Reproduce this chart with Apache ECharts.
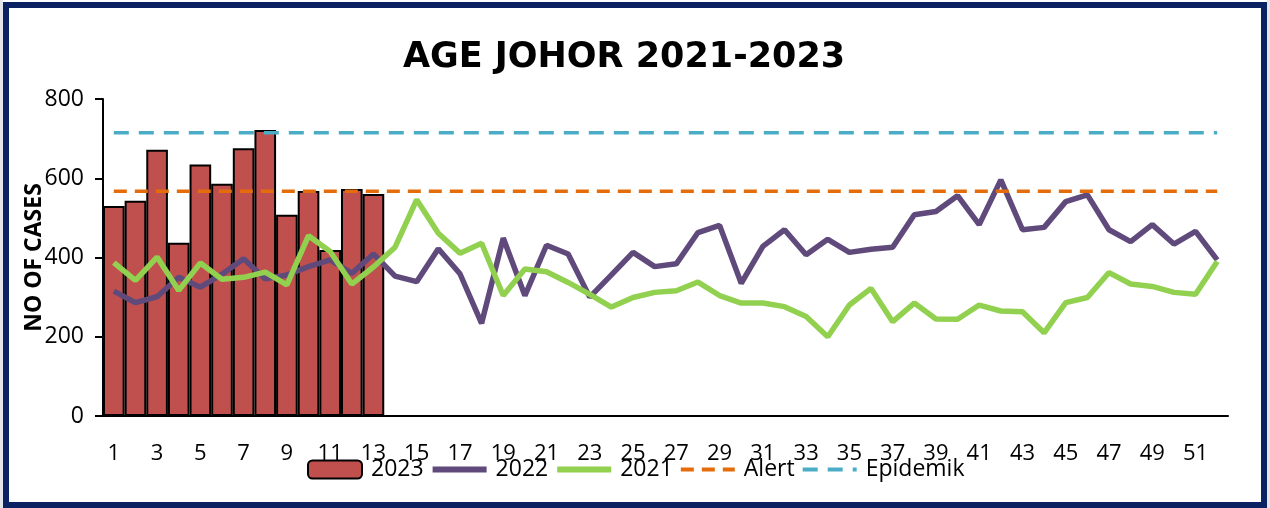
<!DOCTYPE html>
<html>
<head>
<meta charset="utf-8">
<script src="https://cdn.jsdelivr.net/npm/echarts@6/dist/echarts.min.js"></script>
<style>
  html, body { margin: 0; padding: 0; background: #e4e5ea; }
  #main { position: absolute; left: 0; top: 0; width: 1270px; height: 508px; background: #fff; }
  #frame { position: absolute; left: 3px; top: 2px; width: 1264px; height: 506px;
           border: 6px solid #0b2262; box-sizing: border-box; pointer-events: none; }
  #sideL { position: absolute; left: 0; top: 0; width: 3px; height: 508px; background: #e4e5ea; }
  #sideR { position: absolute; right: 0; top: 0; width: 3px; height: 508px; background: #e4e5ea; }
</style>
</head>
<body>
<div id="main"></div>
<div id="sideL"></div>
<div id="sideR"></div>
<div id="frame"></div>
<script>
// 周数 1..52
var weeks = [];
for (var w = 1; w <= 52; w++) weeks.push(String(w));

// 2023 (柱状, 只有前13周)
var cases2023 = [530, 543, 672, 437, 635, 586, 676, 722, 508, 568, 419, 573, 560];
// 2022
var cases2022 = [315, 286, 301, 350, 325, 358, 397, 346, 356, 377, 394, 360, 409,
                 353, 339, 422, 359, 234, 449, 304, 431, 409, 300, 356, 413, 377,
                 384, 463, 481, 335, 428, 470, 407, 446, 413, 421, 426, 508, 516,
                 556, 483, 596, 470, 476, 541, 558, 470, 440, 483, 434, 466, 394];
// 2021
var cases2021 = [387, 342, 401, 317, 386, 345, 350, 363, 331, 455, 415, 333, 376,
                 426, 546, 461, 411, 436, 304, 371, 364, 337, 307, 275, 299, 312,
                 316, 338, 304, 285, 285, 276, 251, 200, 280, 322, 238, 285, 245,
                 244, 280, 265, 263, 210, 286, 299, 362, 333, 327, 312, 307, 390];
// 警戒线 / 流行线 (固定值)
var alertLevel = 567;
var epidemicLevel = 715;
var yTicks = [0, 200, 400, 600, 800];

var alertLine = weeks.map(function () { return alertLevel; });
var epidemicLine = weeks.map(function () { return epidemicLevel; });

var txtFont = '"Open Sans", sans-serif';

var myChart = echarts.init(document.getElementById('main'));
myChart.setOption({
    animation: false,
    title: {
        text: 'AGE JOHOR 2021-2023',
        left: 619,
        textAlign: 'center',
        top: 35,
        textStyle: { fontFamily: '"DejaVu Sans", sans-serif', fontWeight: 'bold', fontSize: 35, color: '#000' }
    },
    grid: { left: 103, right: 42, top: 99, bottom: 92 },
    legend: {
        left: 302,
        top: 453,
        itemWidth: 54,
        itemHeight: 18,
        itemGap: 6,
        textStyle: { fontFamily: txtFont, fontSize: 23, color: '#000', padding: [0, 0, 0, 4] },
        data: [
            { name: '2023' },
            { name: '2022', itemStyle: { opacity: 0 }, lineStyle: { width: 6 } },
            { name: '2021', itemStyle: { opacity: 0 }, lineStyle: { width: 6 } },
            { name: 'Alert', itemStyle: { opacity: 0 }, lineStyle: { width: 4 } },
            { name: 'Epidemik', itemStyle: { opacity: 0 }, lineStyle: { width: 4 } }
        ]
    },
    xAxis: {
        type: 'category',
        data: weeks,
        boundaryGap: true,
        axisLine: { lineStyle: { color: '#000', width: 2 } },
        axisTick: { interval: 0, length: 10, lineStyle: { color: '#000', width: 2 } },
        axisLabel: { interval: 1, margin: 27, color: '#000', fontFamily: txtFont, fontSize: 22 }
    },
    yAxis: {
        type: 'value',
        min: yTicks[0],
        max: yTicks[yTicks.length - 1],
        interval: 200,
        name: 'NO OF CASES',
        nameLocation: 'middle',
        nameRotate: 90,
        nameGap: 57,
        nameMoveOverlap: false,
        nameTextStyle: { fontFamily: txtFont, fontWeight: 'bold', fontSize: 23, color: '#000' },
        axisLine: { show: true, lineStyle: { color: '#000', width: 2 } },
        axisTick: { show: true, length: 8, lineStyle: { color: '#000', width: 2 } },
        axisLabel: { margin: 19, color: '#000', fontFamily: txtFont, fontSize: 23 },
        splitLine: { show: false }
    },
    series: [
        {
            name: '2023', type: 'bar', data: cases2023,
            barCategoryGap: '0%',
            itemStyle: { color: '#C0504D', borderColor: '#000', borderWidth: 2 }
        },
        {
            name: '2022', type: 'line', data: cases2022,
            symbol: 'none', color: '#604A7B',
            lineStyle: { width: 5.5, color: '#604A7B' }
        },
        {
            name: '2021', type: 'line', data: cases2021,
            symbol: 'none', color: '#92D050',
            lineStyle: { width: 5.5, color: '#92D050' }
        },
        {
            name: 'Alert', type: 'line', data: alertLine,
            symbol: 'none', color: '#E46C0A',
            lineStyle: { width: 3.5, color: '#E46C0A', type: [13, 8] }
        },
        {
            name: 'Epidemik', type: 'line', data: epidemicLine,
            symbol: 'none', color: '#4BACC6',
            lineStyle: { width: 3.5, color: '#4BACC6', type: [15, 10] }
        }
    ]
});
</script>
</body>
</html>
